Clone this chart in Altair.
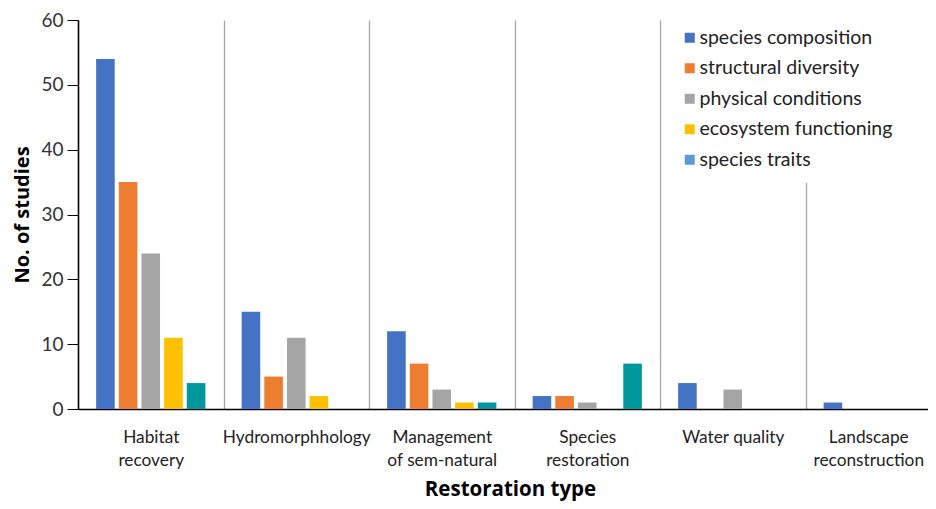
import altair as alt
import pandas as pd

categories = ["Habitat|recovery", "Hydromorphhology", "Management|of sem-natural",
              "Species|restoration", "Water quality", "Landscape|reconstruction"]
series = ["species composition", "structural diversity", "physical conditions",
          "ecosystem functioning", "species traits"]
species_composition = [54, 15, 12, 2, 4, 1]
structural_diversity = [35, 5, 7, 2, 0, 0]
physical_conditions = [24, 11, 3, 1, 3, 0]
ecosystem_functioning = [11, 2, 1, 0, 0, 0]
species_traits = [4, 0, 1, 7, 0, 0]

bar_colors = ["#4472C4", "#ED7D31", "#A5A5A5", "#FFC000", "#00979E"]
legend_colors = ["#4472C4", "#ED7D31", "#A5A5A5", "#FFC000", "#5B9BD5"]

values_by_series = [species_composition, structural_diversity, physical_conditions,
                    ecosystem_functioning, species_traits]
rows = []
for s, vals in zip(series, values_by_series):
    for c, v in zip(categories, vals):
        if v > 0:
            rows.append({"category": c, "series": s, "value": v})
df = pd.DataFrame(rows)

FONT = "Lato"
TITLE_FONT = "Open Sans"

x_enc = alt.X(
    "category:N", sort=categories, title="Restoration type",
    scale=alt.Scale(range=[0, 873], paddingInner=0, paddingOuter=0),
    axis=alt.Axis(labelExpr="split(datum.label, '|')", ticks=False, labelAngle=0,
                  labelFontSize=17.3, labelColor="#222", labelLineHeight=23,
                  labelPadding=19, labelLimit=200, domainColor="#000", domainWidth=1.5,
                  labelOffset={"condition": {"test": "datum.value === 'Landscape|reconstruction'",
                                             "value": -10}, "value": 0},
                  grid=True, tickBand="extent", gridColor="#A6A6A6", gridWidth=1.3,
                  titleFont=TITLE_FONT, titleFontSize=20.5, titleFontWeight="bold",
                  titleColor="#000", titlePadding=11, titleX=432),
)
xoff_enc = alt.XOffset("series:N", sort=series,
                       scale=alt.Scale(paddingInner=0.18, paddingOuter=0.8))
y_enc = alt.Y(
    "value:Q", title="No. of studies",
    scale=alt.Scale(domain=[0, 60]),
    axis=alt.Axis(values=[0, 10, 20, 30, 40, 50, 60], grid=False, tickSize=11,
                  tickColor="#000", domainColor="#000", domainWidth=1.5,
                  labelFontSize=19, labelColor="#333", labelPadding=4,
                  titleFont=TITLE_FONT, titleFontSize=20, titleFontWeight="bold",
                  titleColor="#000", titlePadding=8),
)

bars = alt.Chart(df).mark_bar().encode(
    x=x_enc, xOffset=xoff_enc, y=y_enc,
    color=alt.Color("series:N", sort=series,
                    scale=alt.Scale(domain=series, range=bar_colors), legend=None),
)

leg_df = pd.DataFrame({"category": [categories[0]] * len(series), "series": series,
                       "value": [None] * len(series)})
legend_layer = alt.Chart(leg_df).mark_square(opacity=1).encode(
    x=x_enc, xOffset=xoff_enc, y=y_enc,
    color=alt.Color("series:N", sort=series,
                    scale=alt.Scale(domain=series, range=legend_colors),
                    legend=alt.Legend(title=None, orient="none", legendX=589, legendY=-5,
                                      padding=13, fillColor="white",
                                      symbolType="square", symbolSize=100,
                                      symbolStrokeWidth=0, symbolOpacity=1,
                                      labelFontSize=19.5,
                                      labelColor="#222", rowPadding=9.5,
                                      labelLimit=300, labelOffset=0)),
)

chart = alt.layer(bars, legend_layer).resolve_scale(color="independent").properties(
    width=850, height=389,
    autosize=alt.AutoSizeParams(type="none"),
    padding={"left": 70, "top": 12, "right": 0, "bottom": 92},
).configure(font=FONT).configure_view(stroke=None)

chart.save("out.html", embed_options={"renderer": "svg", "actions": False})
